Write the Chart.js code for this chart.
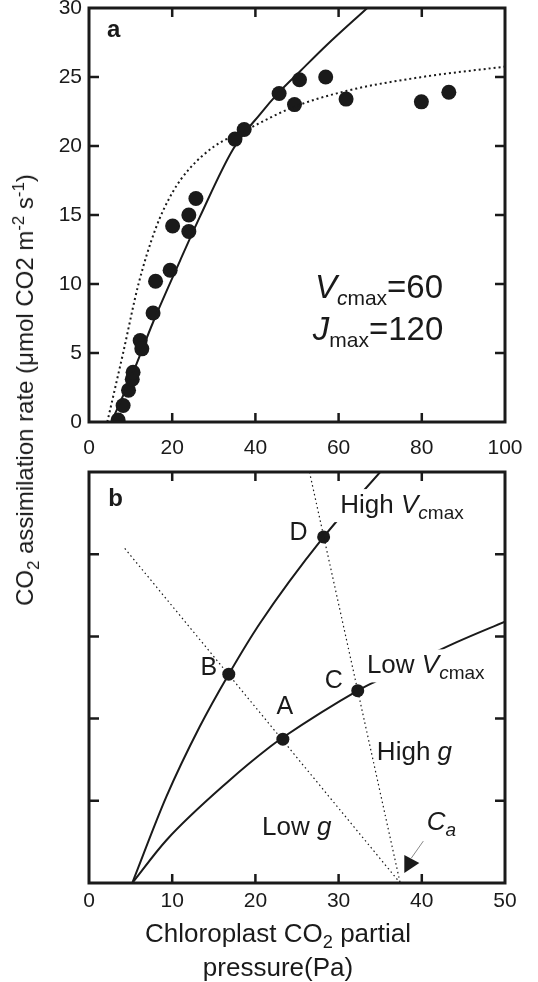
<!DOCTYPE html>
<html>
<head>
<meta charset="utf-8">
<script src="https://cdn.jsdelivr.net/npm/chart.js@4.4.1/dist/chart.umd.min.js"></script>
<style>
  body { margin: 0; background: #fff; }
  #wrap { position: relative; width: 538px; height: 982px; font-family: "Liberation Sans", Arial, sans-serif; color: #1a1a1a; }
  canvas { position: absolute; left: 0; }
  #chartA { top: 0; }
  #chartB { top: 465px; }
  .ytitle { position: absolute; left: 25px; top: 390px; transform: translate(-50%, -50%) rotate(-90deg); white-space: nowrap; font-size: 24px; }
  .xtitle { position: absolute; left: 278px; top: 916px; transform: translateX(-50%); text-align: center; white-space: nowrap; font-size: 26px; line-height: 34px; }
  sub, sup { font-size: 70%; line-height: 0; }
</style>
</head>
<body>
<div id="wrap">
  <canvas id="chartA" width="538" height="465"></canvas>
  <canvas id="chartB" width="538" height="517"></canvas>
  <div class="ytitle">CO<sub>2</sub> assimilation rate (μmol CO2 m<sup>-2</sup> s<sup>-1</sup>)</div>
  <div class="xtitle">Chloroplast CO<sub>2</sub> partial<br>pressure(Pa)</div>
</div>
<script>
const FONT = '"Liberation Sans", Arial, sans-serif';
const INK = '#1a1a1a';

// ---- panel a: measured A/Cc points
const ccMeasured = [7.0, 8.2, 9.5, 10.4, 10.6, 12.3, 12.7, 15.4, 16.0, 19.5, 20.1, 24.0, 24.0, 25.7, 35.1, 37.3, 45.7, 49.4, 50.6, 56.9, 61.8, 79.9, 86.5];
const aMeasured = [0.15, 1.2, 2.3, 3.1, 3.6, 5.9, 5.3, 7.9, 10.2, 11.0, 14.2, 13.8, 15.0, 16.2, 20.5, 21.2, 23.8, 23.0, 24.8, 25.0, 23.4, 23.2, 23.9];
// Rubisco limited curve (solid)
const rubiscoX = [5.4, 10.6, 15.5, 21.9, 26.7, 34.7, 41.1, 45.7, 50.7, 57.1, 66.9];
const rubiscoY = [0, 3.6, 7.3, 11.7, 14.9, 19.8, 22.3, 23.9, 25.4, 27.3, 30];
// electron transport limited curve (dotted)
const electronX = [4.4, 8.2, 11.9, 16, 20, 24, 30, 38, 49, 62, 80, 100];
const electronY = [0, 5.0, 10.0, 14.0, 16.6, 18.3, 19.95, 21.2, 22.8, 24.0, 25.0, 25.75];
const xTicksA = [0, 20, 40, 60, 80, 100];
const yTicksA = [0, 5, 10, 15, 20, 25, 30];

// ---- panel b: schematic
const highVX = [5.2, 9.3, 13.3, 16.8, 20.55, 28.2, 35.0];
const highVY = [0, 1.05, 1.9, 2.54, 3.16, 4.21, 5.0];
const lowVX = [5.2, 9.3, 16.9, 21.8, 23.3, 32.3, 34.4, 44.2, 50];
const lowVY = [0, 0.52, 1.25, 1.66, 1.77, 2.34, 2.45, 2.93, 3.18];
const lowGX = [4.3, 37.4];
const lowGY = [4.07, 0];
const highGX = [26.5, 37.4];
const highGY = [5.0, 0];
const ptLabels = ['A', 'B', 'C', 'D'];
const ptX = [23.3, 16.8, 32.3, 28.2];
const ptY = [1.75, 2.54, 2.34, 4.21];
const xTicksB = [0, 10, 20, 30, 40, 50];
const yTicksB = [0, 1, 2, 3, 4, 5];

const pairs = (xs, ys) => xs.map((x, i) => ({x: x, y: ys[i]}));

function curve(xs, ys, dash, width) {
  return {
    data: pairs(xs, ys), showLine: true, pointRadius: 0, borderColor: INK,
    borderWidth: width, borderDash: dash, cubicInterpolationMode: 'monotone', fill: false
  };
}

// draw a run of text pieces (italic / sub etc.)
function drawRich(ctx, x, y, parts, align, box) {
  const fontOf = p => (p.i ? 'italic ' : '') + (p.w || 'normal') + ' ' + p.s + 'px ' + FONT;
  let total = 0;
  parts.forEach(p => { ctx.font = fontOf(p); p._w = ctx.measureText(p.t).width; total += p._w; });
  let cx = align === 'center' ? x - total / 2 : x;
  if (box) {
    ctx.fillStyle = '#fff';
    ctx.fillRect(cx - 7, y - 24, total + 10, 33);
  }
  ctx.fillStyle = INK;
  ctx.textBaseline = 'alphabetic';
  ctx.textAlign = 'left';
  parts.forEach(p => {
    ctx.font = fontOf(p);
    ctx.fillText(p.t, cx, y + (p.dy || 0));
    cx += p._w;
  });
}

function framePlugin(xTicks, yTicks) {
  return {
    id: 'frame',
    afterDraw(chart) {
      const {ctx, chartArea: ca, scales} = chart;
      ctx.save();
      ctx.strokeStyle = INK;
      ctx.lineWidth = 2.5;
      ctx.beginPath();
      xTicks.slice(1, -1).forEach(v => {
        const px = scales.x.getPixelForValue(v);
        ctx.moveTo(px, ca.bottom); ctx.lineTo(px, ca.bottom - 9);
        ctx.moveTo(px, ca.top); ctx.lineTo(px, ca.top + 9);
      });
      yTicks.slice(1, -1).forEach(v => {
        const py = scales.y.getPixelForValue(v);
        ctx.moveTo(ca.left, py); ctx.lineTo(ca.left + 10, py);
        ctx.moveTo(ca.right, py); ctx.lineTo(ca.right - 10, py);
      });
      ctx.stroke();
      ctx.lineWidth = 3;
      ctx.strokeRect(ca.left, ca.top, ca.width, ca.height);
      ctx.restore();
    }
  };
}

function notesPlugin(notes, extra) {
  return {
    id: 'notes',
    afterDatasetsDraw(chart) {
      const {ctx, scales} = chart;
      ctx.save();
      notes.forEach(n => {
        const px = scales.x.getPixelForValue(n.x) + (n.dx || 0);
        const py = scales.y.getPixelForValue(n.y) + (n.dy || 0);
        drawRich(ctx, px, py, n.parts, n.align, n.box);
      });
      if (extra) extra(chart);
      ctx.restore();
    }
  };
}

function xScale(min, max, ticks, h, pad) {
  return {
    type: 'linear', min: min, max: max,
    afterBuildTicks: s => { s.ticks = ticks.map(v => ({value: v})); },
    afterFit: s => { s.height = h; s.paddingLeft = 0; s.paddingRight = 0; },
    grid: {display: false, drawTicks: false},
    border: {display: false},
    ticks: {font: {family: FONT, size: 21}, color: INK, padding: pad, maxRotation: 0, autoSkip: false}
  };
}
function yScale(min, max, ticks, showLabels) {
  return {
    type: 'linear', min: min, max: max,
    afterBuildTicks: s => { s.ticks = ticks.map(v => ({value: v})); },
    afterFit: s => { s.width = 89; s.paddingTop = 0; s.paddingBottom = 0; },
    grid: {display: false, drawTicks: false},
    border: {display: false},
    ticks: {display: showLabels, font: {family: FONT, size: 21}, color: INK, padding: 7, autoSkip: false}
  };
}

const common = {
  responsive: false, animation: false, devicePixelRatio: 1,
  plugins: {legend: {display: false}, tooltip: {enabled: false}}
};

// ---- chart a
new Chart(document.getElementById('chartA'), {
  type: 'scatter',
  data: {
    datasets: [
      curve(rubiscoX, rubiscoY, [], 2),
      curve(electronX, electronY, [2, 3], 2),
      {data: pairs(ccMeasured, aMeasured), pointRadius: 7.5, pointBorderWidth: 0, backgroundColor: INK, showLine: false}
    ]
  },
  options: Object.assign({}, common, {
    layout: {padding: {top: 8, right: 33, left: 0, bottom: 0}},
    scales: {x: xScale(0, 100, xTicksA, 43, 14), y: yScale(0, 30, yTicksA, true)}
  }),
  plugins: [
    framePlugin(xTicksA, yTicksA),
    notesPlugin([
      {x: 4.3, y: 27.9, parts: [{t: 'a', w: 'bold', s: 24}]},
      {x: 54.3, y: 9.0, parts: [{t: 'V', i: 1, s: 33}, {t: 'c', i: 1, s: 21, dy: 7}, {t: 'max', s: 21, dy: 7}, {t: '=60', s: 33}]},
      {x: 53.8, y: 5.95, parts: [{t: 'J', i: 1, s: 33}, {t: 'max', s: 21, dy: 7}, {t: '=120', s: 33}]}
    ])
  ]
});

// ---- chart b
const letterOffset = {A: [2, -25], B: [-20, 1], C: [-24, -3], D: [-25, 3]};
new Chart(document.getElementById('chartB'), {
  type: 'scatter',
  data: {
    datasets: [
      curve(highVX, highVY, [], 2),
      curve(lowVX, lowVY, [], 2),
      curve(lowGX, lowGY, [1.5, 3], 1.2),
      curve(highGX, highGY, [1.5, 3], 1.2),
      {data: pairs(ptX, ptY), pointRadius: 6.5, pointBorderWidth: 0, backgroundColor: INK, showLine: false}
    ]
  },
  options: Object.assign({}, common, {
    layout: {padding: {top: 7, right: 33, left: 0, bottom: 0}},
    scales: {x: xScale(0, 50, xTicksB, 99, 6), y: yScale(0, 5, yTicksB, false)}
  }),
  plugins: [
    framePlugin(xTicksB, yTicksB),
    notesPlugin([
      {x: 2.3, y: 4.59, parts: [{t: 'b', w: 'bold', s: 24}]},
      {x: 30.2, y: 4.5, box: true, parts: [{t: 'High ', s: 26}, {t: 'V', i: 1, s: 26}, {t: 'c', i: 1, s: 19, dy: 6}, {t: 'max', s: 19, dy: 6}]},
      {x: 33.4, y: 2.55, box: true, parts: [{t: 'Low ', s: 26}, {t: 'V', i: 1, s: 26}, {t: 'c', i: 1, s: 19, dy: 6}, {t: 'max', s: 19, dy: 6}]},
      {x: 34.6, y: 1.5, parts: [{t: 'High ', s: 26}, {t: 'g', i: 1, s: 26}]},
      {x: 20.8, y: 0.58, parts: [{t: 'Low ', s: 26}, {t: 'g', i: 1, s: 26}]},
      {x: 40.6, y: 0.64, parts: [{t: 'C', i: 1, s: 26}, {t: 'a', i: 1, s: 19, dy: 6}]}
    ].concat(ptLabels.map((l, i) => ({
      x: ptX[i], y: ptY[i], dx: letterOffset[l][0], dy: letterOffset[l][1], align: 'center', parts: [{t: l, s: 25}]
    }))), chart => {
      // C_a pointer
      const {ctx, scales} = chart;
      const ax = scales.x.getPixelForValue(37.9), ay = scales.y.getPixelForValue(0.23);
      ctx.strokeStyle = '#888';
      ctx.lineWidth = 1;
      ctx.beginPath();
      ctx.moveTo(ax + 19, ay - 23); ctx.lineTo(ax + 7, ay - 6);
      ctx.stroke();
      ctx.fillStyle = INK;
      ctx.beginPath();
      ctx.moveTo(ax, ay - 9); ctx.lineTo(ax, ay + 9); ctx.lineTo(ax + 15, ay - 1);
      ctx.closePath();
      ctx.fill();
    })
  ]
});
</script>
</body>
</html>
